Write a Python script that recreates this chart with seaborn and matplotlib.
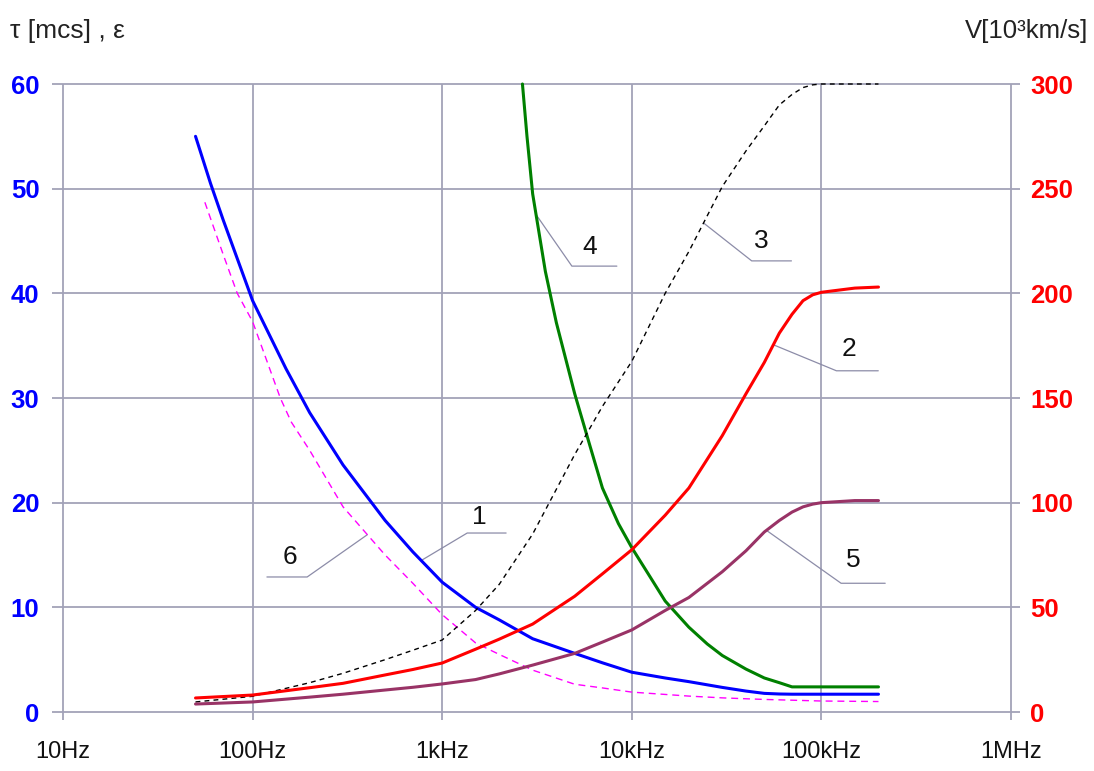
import numpy as np
import pandas as pd
import matplotlib
matplotlib.use("Agg")
import matplotlib.pyplot as plt
import seaborn as sns

# ---- axes ----
decades = [10, 100, 1e3, 1e4, 1e5, 1e6]
decade_labels = ["10Hz", "100Hz", "1kHz", "10kHz", "100kHz", "1MHz"]
tau_ticks = [0, 10, 20, 30, 40, 50, 60]
v_ticks = [0, 50, 100, 150, 200, 250, 300]

# ---- curve 1: relaxation time tau [mcs] (left axis) ----
f1 = [50, 60, 70, 100, 150, 200, 300, 500, 700, 1e3, 1.5e3, 2e3, 3e3, 5e3,
      7e3, 1e4, 1.5e4, 2e4, 3e4, 4e4, 5e4, 6e4, 7e4, 1e5, 1.5e5, 2e5]
tau1 = [55.0, 50.5, 47.0, 39.3, 32.8, 28.6, 23.6, 18.3, 15.3, 12.4, 10.0, 8.8,
        7.0, 5.6, 4.7, 3.8, 3.25, 2.9, 2.35, 2.0, 1.78, 1.72, 1.7, 1.7, 1.7, 1.7]

# ---- curve 6: permittivity, dashed (left axis) ----
f6 = [56, 70, 83, 100, 140, 160, 200, 300, 500, 700, 1e3, 1.5e3, 2e3, 3e3,
      5e3, 7e3, 1e4, 2e4, 3e4, 5e4, 1e5, 2e5]
eps6 = [48.7, 43.7, 40.0, 37.3, 30.0, 27.7, 25.0, 19.6, 15.0, 12.3, 9.3, 6.6,
        5.5, 4.0, 2.65, 2.3, 1.9, 1.52, 1.35, 1.2, 1.05, 1.0]

# ---- curve 4: permittivity (left axis) ----
f4 = [2650, 2800, 3000, 3500, 4000, 5000, 6000, 7000, 8500, 1e4, 1.25e4,
      1.5e4, 2e4, 2.5e4, 3e4, 4e4, 5e4, 6e4, 7e4, 1e5, 2e5]
eps4 = [60.0, 55.0, 49.5, 42.1, 37.2, 30.4, 25.5, 21.4, 18.0, 15.7, 12.9,
        10.6, 8.1, 6.5, 5.4, 4.1, 3.25, 2.8, 2.4, 2.4, 2.4]

# ---- curves 2, 3, 5: velocity V [10^3 km/s] (right axis) ----
fv = [50, 100, 200, 300, 500, 700, 1e3, 1.5e3, 2e3, 3e3, 5e3, 7e3, 1e4,
      1.5e4, 2e4, 3e4, 4e4, 5e4, 6e4, 7e4, 8e4, 9e4, 1e5, 1.5e5, 2e5]
v2 = [6.7, 8.1, 11.6, 13.7, 17.7, 20.3, 23.4, 30.0, 34.8, 42.0, 55.3, 66.0,
      77.5, 94.0, 107.0, 132.0, 152.0, 167.0, 181.0, 190.0, 196.5, 199.3,
      200.5, 202.5, 203.0]
v3 = [4.8, 7.5, 14.0, 18.5, 25.0, 29.5, 34.4, 48.5, 61.0, 85.0, 123.0, 146.0,
      167.5, 200.0, 220.0, 251.0, 268.0, 280.0, 290.0, 295.0, 298.3, 299.6,
      300.0, 300.0, 300.0]
v5 = [3.8, 4.8, 7.1, 8.5, 10.5, 11.8, 13.4, 15.5, 18.2, 22.4, 28.0, 33.4,
      39.2, 48.5, 54.7, 67.0, 77.0, 86.0, 91.5, 95.5, 98.0, 99.3, 100.0,
      101.0, 101.0]

sns.set_theme(style="white")
plt.rcParams["font.family"] = ["Liberation Sans", "DejaVu Sans"]
plt.rcParams["lines.scale_dashes"] = False

W, H = 1094, 771
fig = plt.figure(figsize=(W / 100, H / 100), dpi=100)
fig.patch.set_facecolor("white")
ax = fig.add_axes([63 / W, 1 - 712 / H, 948 / W, 628 / H])
ax.set_xscale("log")
ax.set_xlim(10, 1e6)
ax.set_ylim(0, 60)
ax2 = ax.twinx()
ax2.set_ylim(0, 300)
for a in (ax, ax2):
    for s in a.spines.values():
        s.set_visible(False)
    a.set_facecolor("none")
ax.set_facecolor("white")

# grid drawn a bit past the plotting box
grid_c = "#a2a2b8"
ax.hlines(tau_ticks, -0.012, 1.009, transform=ax.get_yaxis_transform(),
          colors=grid_c, lw=1.3, clip_on=False, zorder=0)
ax.vlines(decades, -0.013, 1.0, transform=ax.get_xaxis_transform(),
          colors=grid_c, lw=1.3, clip_on=False, zorder=0)

def draw(axis, f, y, color, lw, dashes=None):
    df = pd.DataFrame({"f": f, "y": y})
    sns.lineplot(data=df, x="f", y="y", ax=axis, color=color, lw=lw,
                 estimator=None, clip_on=False, zorder=3)
    line = axis.get_lines()[-1]
    line.set_solid_joinstyle("round")
    if dashes is not None:
        line.set_dashes(dashes)

draw(ax, f6, eps6, "#ff00ff", 1.0, dashes=(5, 3.5))
draw(ax, f1, tau1, "#0000ff", 2.2)
draw(ax, f4, eps4, "#008000", 2.2)
draw(ax2, fv, v3, "#000000", 1.0, dashes=(3.5, 3))
draw(ax2, fv, v5, "#993366", 2.2)
draw(ax2, fv, v2, "#ff0000", 2.2)

for a in (ax, ax2):
    a.set_xlabel("")
    a.set_ylabel("")

# ticks
ax.set_xticks(decades)
ax.set_xticklabels(decade_labels, fontsize=17, color="#111111")
ax.xaxis.set_minor_locator(matplotlib.ticker.NullLocator())
ax.set_yticks(tau_ticks)
ax.set_yticklabels([str(t) for t in tau_ticks], color="#0000ff",
                   fontweight="bold", fontsize=18.5)
ax2.set_yticks(v_ticks)
ax2.set_yticklabels([str(t) for t in v_ticks], color="#ff0000",
                    fontweight="bold", fontsize=18.5)
ax.tick_params(axis="x", length=0, pad=21)
ax.tick_params(axis="y", length=0, pad=17)
ax2.tick_params(axis="y", length=0, pad=14)

# curve numbers with leader lines (start on the curve, elbow, end), text position
def on_curve(f, y, at):
    return float(np.interp(np.log10(at), np.log10(f), y))

leaders = [
    ("1", f1, tau1, 1.0, 775, (1355, 17.1), (2173, 17.1), (1567, 18.6)),
    ("6", f6, eps6, 1.0, 403, (194, 12.9), (119, 12.9), (157, 14.8)),
    ("4", f4, eps4, 1.0, 3126, (4830, 42.6), (8340, 42.6), (6010, 44.4)),
    ("3", fv, v3, 5.0, 23900, (42900, 43.1), (69500, 43.1), (48300, 45.0)),
    ("2", fv, v2, 5.0, 55800, (120000, 32.6), (199500, 32.6), (139000, 34.7)),
    ("5", fv, v5, 5.0, 51300, (127000, 12.3), (217000, 12.3), (147000, 14.5)),
]
for name, f, y, scale, at, elbow, end, txt in leaders:
    y0 = on_curve(f, y, at) / scale
    ax.plot([at, elbow[0], end[0]], [y0, elbow[1], end[1]], color="#8c8ca8",
            lw=0.9, zorder=2, clip_on=False)
    ax.text(txt[0], txt[1], name, ha="center", va="center", fontsize=19,
            color="#111111", zorder=4)

fig.text(10 / W, 1 - 38 / H, "τ [mcs] , ε", fontsize=19, color="#222222",
         ha="left", va="baseline")
fig.text(1088 / W, 1 - 38 / H, "V[10³km/s]", fontsize=18.5, color="#222222",
         ha="right", va="baseline")

fig.savefig("out.png", dpi=100, facecolor="white")
